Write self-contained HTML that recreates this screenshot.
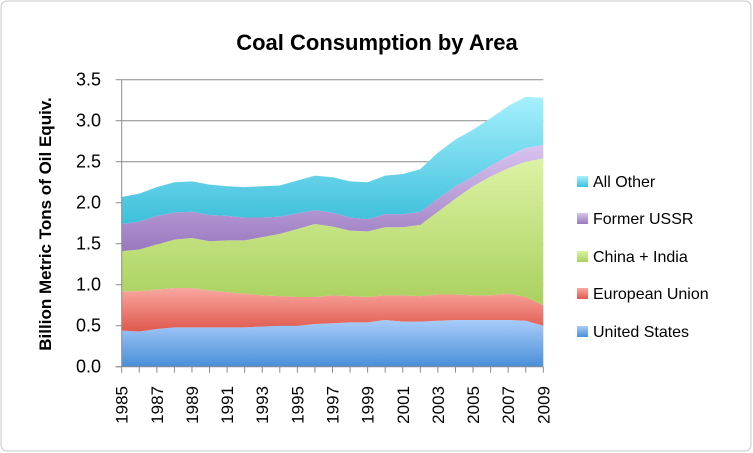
<!DOCTYPE html>
<html><head><meta charset="utf-8"><style>
body{margin:0;background:#fff;}
svg{display:block;font-family:"Liberation Sans",sans-serif;}
</style></head><body>
<svg id="chart" width="753" height="453">
<defs>
<linearGradient id="gUS" x1="0" y1="0" x2="0" y2="1"><stop offset="0" stop-color="#a8ccfa"/><stop offset="1" stop-color="#4a8fd8"/></linearGradient>
<linearGradient id="gEU" x1="0" y1="0" x2="0" y2="1"><stop offset="0" stop-color="#f9a8a0"/><stop offset="1" stop-color="#e0584e"/></linearGradient>
<linearGradient id="gCI" x1="0" y1="0" x2="0" y2="1"><stop offset="0" stop-color="#dcf3a4"/><stop offset="1" stop-color="#aad05e"/></linearGradient>
<linearGradient id="gSU" x1="0" y1="0" x2="0" y2="1"><stop offset="0" stop-color="#d8c4f0"/><stop offset="1" stop-color="#9a78bf"/></linearGradient>
<linearGradient id="gOT" x1="0" y1="0" x2="0" y2="1"><stop offset="0" stop-color="#a6f0fd"/><stop offset="1" stop-color="#3cbfdb"/></linearGradient>
</defs>
<rect x="1" y="1" width="750" height="450" rx="6" fill="#fff" stroke="#c8c8c8"/>
<text x="377" y="50" text-anchor="middle" font-size="22" font-weight="bold">Coal Consumption by Area</text>
<text transform="translate(51,224) rotate(-90)" text-anchor="middle" font-size="17" font-weight="bold">Billion Metric Tons of Oil Equiv.</text>
<g id="grid"></g><g id="areas"></g><g id="axes"></g><g id="legend"></g>
</svg>
<script>
const years = [1985,1986,1987,1988,1989,1990,1991,1992,1993,1994,1995,1996,1997,1998,1999,2000,2001,2002,2003,2004,2005,2006,2007,2008,2009];
const unitedStates = [.44,.43,.46,.48,.48,.48,.48,.48,.49,.50,.50,.52,.53,.54,.54,.57,.55,.55,.56,.57,.57,.57,.57,.56,.50];
const europeanUnion = [.48,.49,.48,.48,.48,.45,.43,.41,.38,.36,.35,.33,.34,.32,.31,.30,.32,.31,.32,.31,.30,.30,.32,.29,.25];
const chinaIndia = [.49,.51,.55,.59,.61,.60,.63,.65,.71,.76,.83,.89,.84,.80,.80,.83,.83,.87,1.01,1.17,1.33,1.45,1.53,1.65,1.79];
const formerUSSR = [.33,.34,.35,.33,.32,.32,.30,.28,.24,.21,.19,.17,.17,.16,.15,.16,.16,.16,.16,.15,.12,.13,.15,.17,.16];
const allOther = [.33,.34,.35,.37,.37,.37,.36,.37,.38,.38,.40,.42,.43,.44,.45,.47,.49,.52,.56,.57,.57,.58,.61,.62,.58];
const seriesNames = ["United States","European Union","China + India","Former USSR","All Other"];
const yTicks = ["0.0","0.5","1.0","1.5","2.0","2.5","3.0","3.5"];

const NS="http://www.w3.org/2000/svg";
const X0=121.7, X1=543.3, Y0=366.7, PXU=82;
const x = i => X0 + (X1-X0)*i/(years.length-1);
const y = v => Y0 - v*PXU;
function mk(tag,attrs,parent){const e=document.createElementNS(NS,tag);for(const k in attrs)e.setAttribute(k,attrs[k]);parent.appendChild(e);return e;}
const grid=document.getElementById('grid'),areas=document.getElementById('areas'),axes=document.getElementById('axes'),legend=document.getElementById('legend');

yTicks.forEach(t=>{
  const v=parseFloat(t), yy=y(v);
  if(v>0){const l=mk('line',{x1:X0,x2:X1,y1:yy,y2:yy,stroke:'#8c8c8c','stroke-width':1},grid);
  
  }
  const tk=mk('line',{x1:X0-6,x2:X0,y1:yy,y2:yy,stroke:'#8c8c8c'},axes);
  
  
  const tx=mk('text',{x:101,y:yy+6,'text-anchor':'end','font-size':18},axes);
  tx.textContent=t;
  
  
});

const series=[unitedStates,europeanUnion,chinaIndia,formerUSSR,allOther];
const fills=['url(#gUS)','url(#gEU)','url(#gCI)','url(#gSU)','url(#gOT)'];
const keys=['united-states','european-union','china-india','former-ussr','all-other'];
let base=years.map(()=>0);
series.forEach((s,k)=>{
  const top=base.map((b,i)=>b+s[i]);
  let d='M'+years.map((_,i)=>x(i)+','+y(top[i])).join('L');
  for(let i=years.length-1;i>=0;i--) d+='L'+x(i)+','+y(base[i]);
  const p=mk('path',{d:d+'Z',fill:fills[k]},areas);
  
  
  base=top;
});

const ax=mk('line',{x1:X0,x2:X0,y1:80,y2:Y0,stroke:'#8c8c8c'},axes);


const bx=mk('line',{x1:X0-6,x2:X1,y1:Y0,y2:Y0,stroke:'#8c8c8c'},axes);


years.forEach((yr,i)=>{
  const t=mk('line',{x1:x(i),x2:x(i),y1:Y0,y2:Y0+6,stroke:'#8c8c8c'},axes);
  
  
  if(i%2===0){
    const tx=mk('text',{transform:`translate(${x(i)+6},386) rotate(-90)`,'text-anchor':'end','font-size':17},axes);
    tx.textContent=yr;
    
    
  }
});

const legY=[337,299,262,224,187];
seriesNames.forEach((n,k)=>{
  const g=mk('g',{},legend);
  
  
  mk('rect',{x:577,y:legY[k]-11,width:11,height:11,fill:fills[k]},g);
  const tx=mk('text',{x:593,y:legY[k],'font-size':16},g);
  tx.textContent=n;
});
</script>
</body></html>
